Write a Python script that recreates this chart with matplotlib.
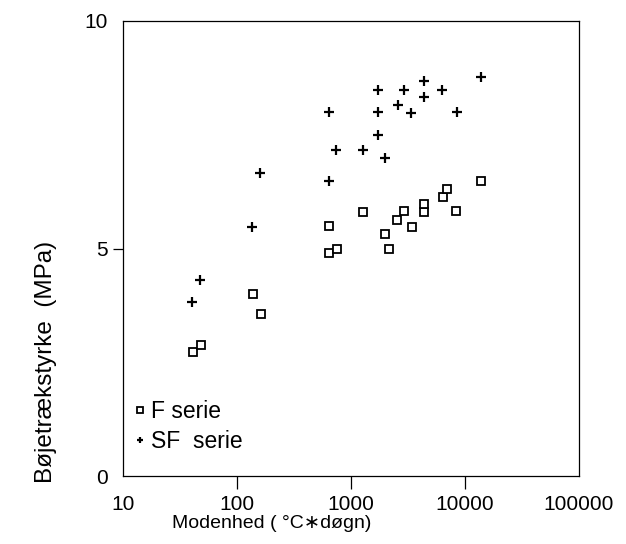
import matplotlib
matplotlib.use("Agg")
from matplotlib import pyplot as plt

plt.rcParams['font.family'] = ['Liberation Sans', 'DejaVu Sans']

# F serie (squares): maturity (°C*døgn) and flexural strength (MPa)
f_modenhed = [41, 48, 137, 161, 637, 749, 637, 1262, 1987, 2154,
              2518, 2945, 3396, 4395, 4395, 6350, 6998, 8414, 13680]
f_styrke = [2.72, 2.89, 3.99, 3.57, 4.90, 4.98, 5.49, 5.81, 5.32, 4.98,
            5.63, 5.83, 5.48, 5.81, 5.98, 6.14, 6.30, 5.83, 6.49]

# SF serie (plus signs)
sf_modenhed = [40, 47, 135, 159, 637, 637, 739, 1262, 1734, 1734,
               1734, 1990, 2570, 2917, 3370, 4395, 4395, 6320, 8480, 13800]
sf_styrke = [3.82, 4.30, 5.48, 6.66, 8.01, 6.49, 7.16, 7.17, 8.48, 7.99,
             7.49, 6.99, 8.15, 8.48, 7.98, 8.68, 8.32, 8.49, 7.99, 8.76]

x_ticks = [10, 100, 1000, 10000, 100000]
x_ticklabels = ['10', '100', '1000', '10000', '100000']
y_ticks = [0, 5, 10]

fig = plt.figure(figsize=(6.26, 5.44), dpi=100)
ax = fig.add_axes([123 / 626, 1 - 476 / 544, 456 / 626, 455 / 544])

ax.plot(f_modenhed, f_styrke, 's', markersize=5.8, markerfacecolor='white',
        markeredgecolor='black', markeredgewidth=1.3, label='F serie')
ax.plot(sf_modenhed, sf_styrke, '+', markersize=6.5, color='black',
        markeredgewidth=1.6, label='SF  serie')

ax.set_xscale('log')
ax.set_xlim(10, 100000)
ax.set_ylim(0, 10)
ax.set_xticks(x_ticks)
ax.set_xticklabels(x_ticklabels)
ax.set_yticks(y_ticks)
ax.minorticks_off()
ax.tick_params(axis='x', direction='out', length=9, width=0.9, pad=5, labelsize=15)
ax.tick_params(axis='y', direction='out', length=7, width=0.9, pad=4, labelsize=15)

# only the inner ticks carry a tick mark
for ticks in (ax.xaxis.get_major_ticks(), ax.yaxis.get_major_ticks()):
    ticks[0].tick1line.set_visible(False)
    ticks[-1].tick1line.set_visible(False)

for s in ax.spines.values():
    s.set_linewidth(0.9)

ax.set_xlabel('Modenhed ( °C∗døgn)', fontsize=14, ha='left', va='top')
ax.xaxis.set_label_coords(49 / 456, -39 / 455)
ax.set_ylabel('Bøjetrækstyrke  (MPa)', fontsize=17.5)
ax.yaxis.set_label_coords(-66 / 456, 0.25)

ax.legend(loc='lower left', bbox_to_anchor=(-0.012, 0.015), frameon=False,
          fontsize=16.5, handlelength=0.6, handletextpad=0.15, labelspacing=0.3,
          borderaxespad=0.3, markerscale=0.75)

fig.savefig('out.png', dpi=100)
